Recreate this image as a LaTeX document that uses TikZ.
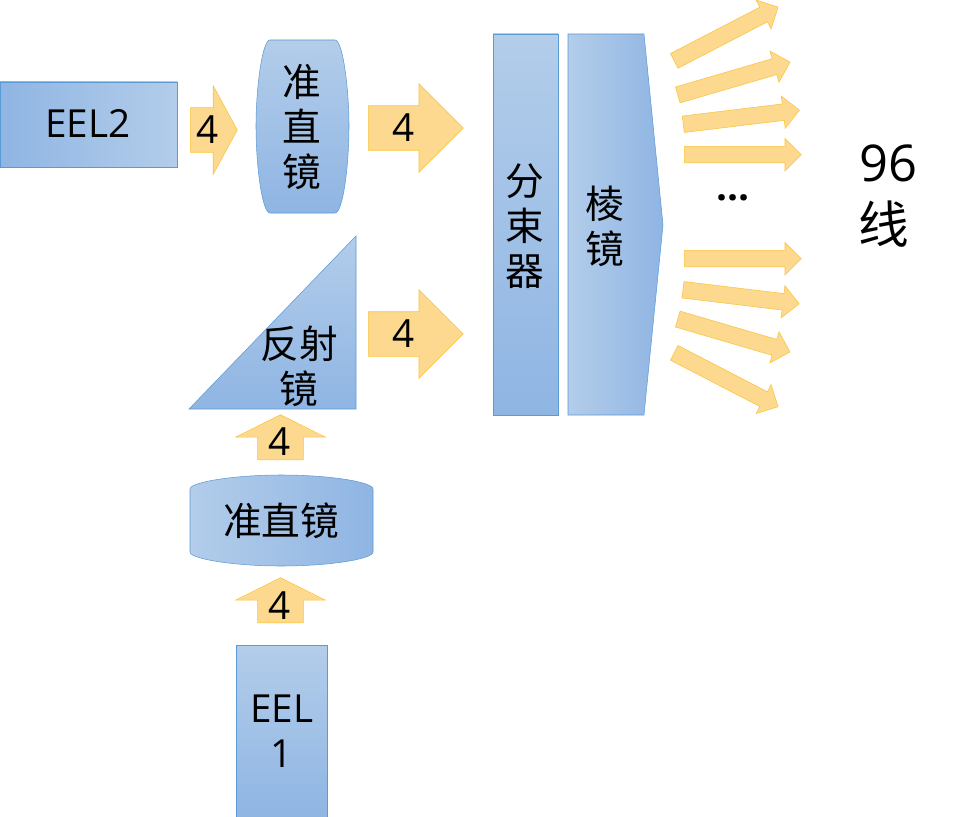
\documentclass[tikz,border=0pt]{standalone}
\usepackage{fontspec}
\setmainfont{Open Sans}
\newfontfamily\cjk{Noto Sans CJK SC}
\usetikzlibrary{shapes.arrows,shadings}
\definecolor{boxlight}{HTML}{B3CDEA}
\definecolor{boxdark}{HTML}{8FB5E3}
\definecolor{boxline}{HTML}{5B9BD5}
\definecolor{beamfill}{HTML}{FDD98F}
\definecolor{beamline}{HTML}{FBC33A}
\tikzset{
	hgrad/.style={draw=boxline,left color=boxlight,right color=boxdark},
	vgrad/.style={draw=boxline,top color=boxlight,bottom color=boxdark},
	txt/.style={inner sep=0pt,align=center,font=\fontsize{29}{33.75}\selectfont},
	cjktxt/.style={inner sep=0pt,align=center,font=\fontsize{29}{33.75}\selectfont\cjk},
	beam/.style={single arrow,draw=beamline,fill=beamfill,inner sep=0pt,anchor=tail,single arrow head indent=0pt},
	smallbeam/.style={beam,text height=16.5pt,text depth=16.5pt,minimum height=35.25pt,single arrow head extend=16.5pt,single arrow tip angle=123},
	bigbeam/.style={beam,text height=16.5pt,text depth=16.5pt,minimum height=71.25pt,single arrow head extend=16.5pt,single arrow tip angle=90},
	upbeam/.style={beam,rotate=90,text height=16.9pt,text depth=16.9pt,minimum height=33.75pt,single arrow head extend=16.5pt,single arrow tip angle=127},
	raybeam/.style={beam,text height=6pt,text depth=6pt,minimum height=87.75pt,single arrow head extend=6pt,single arrow tip angle=90},
}
\begin{document}
\begin{tikzpicture}[x=0.75pt,y=-0.75pt]
	\useasboundingbox (0,0) rectangle (954,817);

	% sources
	\node [hgrad,right color=boxlight,left color=boxdark,minimum width=133pt,minimum height=63.75pt] (eel2) at (88.7,124.5) {};
	\node [txt] (eel2text) at (88,124) {EEL2};
	\node [vgrad,minimum width=68.5pt,minimum height=129pt] (eel1) at (281.8,731) {};
	\node [txt] (eel1text) at (282,731) {EEL\\1};

	% lenses and mirror
	\draw [vgrad] (270,40) -- (335,40) .. controls (343,40) and (349,90) .. (349,126) .. controls (349,165) and (343,213) .. (335,213) -- (270,213) .. controls (262,213) and (256,165) .. (256,126) .. controls (256,90) and (262,40) .. (270,40) -- cycle;
	\node [cjktxt] (lens1) at (302,127) {准\\直\\镜};
	\draw [hgrad] (190,489) .. controls (190,482) and (235,475) .. (281,475) .. controls (330,475) and (373,482) .. (373,489) -- (373,552) .. controls (373,559) and (330,566) .. (281,566) .. controls (235,566) and (190,559) .. (190,552) -- cycle;
	\node [cjktxt] (lens2) at (281,521) {准直镜};
	\draw [vgrad] (356,236) -- (356,409) -- (189,409) -- cycle;
	\node [cjktxt] (mirror) at (299,366) {反射\\镜};

	% splitter and prism
	\node [vgrad,minimum width=48.75pt,minimum height=285.75pt] (splitter) at (525.5,224.5) {};
	\node [cjktxt] (splittertext) at (525,226) {分\\束\\器};
	\draw [hgrad] (568,34) -- (644,34) -- (663,225) -- (644,415) -- (568,415) -- cycle;
	\node [cjktxt] (prism) at (605,226) {棱\\镜};

	% beams
	\node [smallbeam] (b1) at (190,130) {};
	\node [txt] (b1text) at (208,130) {4};
	\node [bigbeam] (b2) at (368,128) {};
	\node [txt] (b2text) at (404,128) {4};
	\node [bigbeam] (b3) at (368,334) {};
	\node [txt] (b3text) at (404,334) {4};
	\node [upbeam] (b4) at (280.5,460) {};
	\node [txt] (b4text) at (280,442) {4};
	\node [upbeam] (b5) at (280.5,623) {};
	\node [txt] (b5text) at (280,606) {4};

	% fan of rays
	\node [raybeam,rotate=27.4] (r1) at (674,61) {};
	\node [raybeam,rotate=16.3] (r2) at (677.5,95) {};
	\node [raybeam,rotate=6.9] (r3) at (683,124.3) {};
	\node [raybeam] (r4) at (684,154.7) {};
	\node [raybeam] (r5) at (684,258.7) {};
	\node [raybeam,rotate=-6.9] (r6) at (682.7,289.7) {};
	\node [raybeam,rotate=-16.3] (r7) at (677.5,319) {};
	\node [raybeam,rotate=-27.4] (r8) at (674,352.7) {};

	\node [txt,font=\fontsize{29}{33.75}\selectfont\bfseries] (dots) at (733,198) {…};
	\node [inner sep=0pt,font=\fontsize{38}{44}\selectfont] (count) at (888,163) {96};
	\node [inner sep=0pt,font=\fontsize{38}{44}\selectfont\cjk] (countunit) at (884,224) {线};
\end{tikzpicture}
\end{document}
